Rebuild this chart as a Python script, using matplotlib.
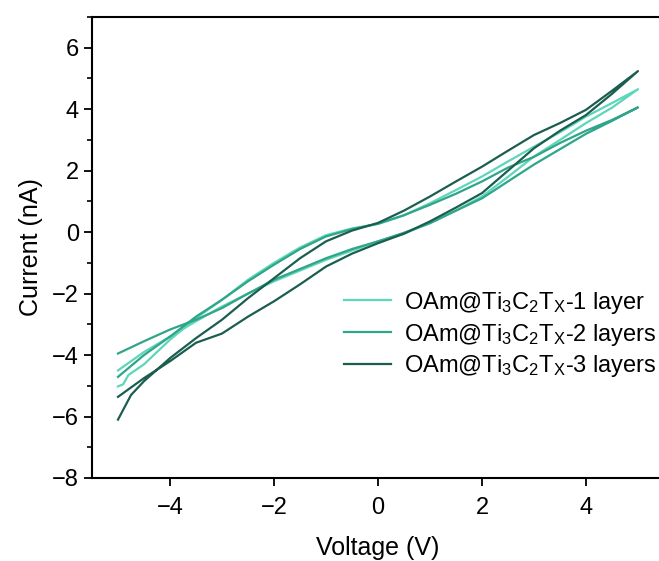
import matplotlib
matplotlib.use("Agg")
import matplotlib.pyplot as plt
from matplotlib.ticker import MultipleLocator

plt.rcParams['font.family'] = ['Liberation Sans', 'DejaVu Sans']
plt.rcParams['mathtext.fontset'] = 'custom'
plt.rcParams['mathtext.rm'] = 'Liberation Sans'
plt.rcParams['mathtext.it'] = 'Liberation Sans'

labels = ['OAm@Ti$_3$C$_2$T$_X$-1 layer',
          'OAm@Ti$_3$C$_2$T$_X$-2 layers',
          'OAm@Ti$_3$C$_2$T$_X$-3 layers']
colors = ['#5ED6BA', '#2FA58A', '#1B5E50']

# 1 layer: forward (upper at right) and return branches
v1a = [-5, -4.9, -4.8, -4.5, -4, -3.5, -3, -2.5, -2, -1.5, -1, -0.5, 0, 0.5, 1, 1.5, 2, 2.5, 3, 3.5, 4, 4.5, 5]
i1a = [-5.02, -4.95, -4.65, -4.3, -3.5, -2.8, -2.2, -1.55, -1.0, -0.5, -0.1, 0.12, 0.27, 0.55, 0.94, 1.37, 1.81, 2.3, 2.78, 3.25, 3.76, 4.2, 4.65]
v1b = [5, 4.5, 4, 3.5, 3, 2.5, 2, 1.5, 1, 0.5, 0, -0.5, -1, -1.5, -2, -2.5, -3, -3.5, -4, -4.5, -5]
i1b = [4.65, 4.05, 3.55, 3.0, 2.46, 1.8, 1.16, 0.7, 0.3, -0.05, -0.3, -0.6, -0.9, -1.25, -1.6, -2.0, -2.42, -2.9, -3.4, -3.9, -4.5]

# 2 layers
v2a = [-5, -4.5, -4, -3.5, -3, -2.5, -2, -1.5, -1, -0.5, 0, 0.5, 1, 1.5, 2, 2.5, 3, 3.5, 4, 4.5, 5]
i2a = [-4.71, -4.0, -3.4, -2.75, -2.2, -1.6, -1.06, -0.55, -0.14, 0.1, 0.27, 0.55, 0.89, 1.25, 1.65, 2.1, 2.45, 2.9, 3.3, 3.65, 4.06]
v2b = [5, 4.5, 4, 3.5, 3, 2.5, 2, 1.5, 1, 0.5, 0, -0.5, -1, -1.5, -2, -2.5, -3, -3.5, -4, -4.5, -5]
i2b = [4.06, 3.62, 3.2, 2.7, 2.2, 1.65, 1.1, 0.7, 0.29, -0.02, -0.3, -0.55, -0.85, -1.2, -1.55, -2.0, -2.47, -2.85, -3.17, -3.55, -3.95]

# 3 layers
v3a = [-5, -4.75, -4.5, -4, -3.5, -3, -2.5, -2, -1.5, -1, -0.5, 0, 0.5, 1, 1.5, 2, 2.5, 3, 3.5, 4, 4.5, 5]
i3a = [-6.10, -5.3, -4.85, -4.1, -3.45, -2.85, -2.15, -1.5, -0.85, -0.3, 0.05, 0.3, 0.7, 1.16, 1.65, 2.13, 2.65, 3.16, 3.55, 3.98, 4.6, 5.24]
v3b = [5, 4.5, 4, 3.5, 3, 2.5, 2, 1.5, 1, 0.5, 0, -0.5, -1, -1.5, -2, -2.5, -3, -3.5, -4, -4.5, -5]
i3b = [5.24, 4.5, 3.81, 3.3, 2.73, 2.0, 1.27, 0.8, 0.35, -0.05, -0.36, -0.7, -1.12, -1.7, -2.25, -2.75, -3.3, -3.6, -4.2, -4.75, -5.36]

series = [(v1a + v1b, i1a + i1b), (v2a + v2b, i2a + i2b), (v3a + v3b, i3a + i3b)]

fig = plt.figure(figsize=(6.59, 5.61), dpi=100)
ax = fig.add_axes([92/659, 1 - 478/561, 572/659, 461/561])

for (v, i), c, lab in zip(series, colors, labels):
    ax.plot(v, i, color=c, lw=1.6, label=lab)

ax.set_xlim(-5.5, 5.5)
ax.set_ylim(-8, 7)
ax.xaxis.set_major_locator(MultipleLocator(2))
ax.yaxis.set_major_locator(MultipleLocator(2))
ax.yaxis.set_minor_locator(MultipleLocator(1))
ax.tick_params(axis='both', which='major', direction='out', length=6, width=1.3, labelsize=17)
ax.tick_params(axis='x', which='major', pad=8)
ax.tick_params(axis='y', which='minor', direction='out', length=3.5, width=1.2)
ax.spines['right'].set_visible(False)
for s in ['left', 'bottom', 'top']:
    ax.spines[s].set_linewidth(1.5)

ax.set_xlabel('Voltage (V)', fontsize=18, labelpad=12)
ax.set_ylabel('Current (nA)', fontsize=18, labelpad=6)

leg = ax.legend(loc='lower right', bbox_to_anchor=(1.012, 0.183), frameon=False, fontsize=17,
                handlelength=2.0, handletextpad=0.55, labelspacing=0.25, borderaxespad=0.2)

fig.savefig('out.png', dpi=100)
